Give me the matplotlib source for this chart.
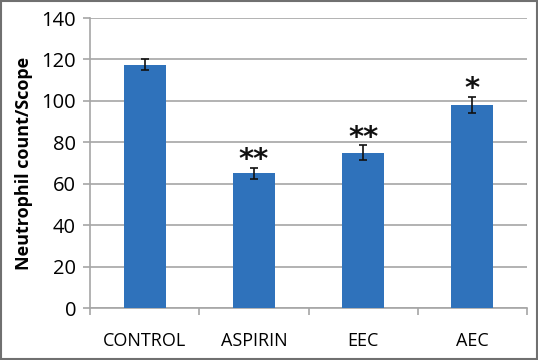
import matplotlib
matplotlib.use("Agg")
import matplotlib.pyplot as plt
import numpy as np

categories = ["CONTROL", "ASPIRIN", "EEC", "AEC"]
values = [117.5, 65.0, 75.0, 98.0]
errors = [2.7, 2.8, 3.5, 3.8]
marks = ["", "**", "**", "*"]
yticks = [0, 20, 40, 60, 80, 100, 120, 140]

plt.rcParams['font.family'] = ['Open Sans', 'DejaVu Sans']

fig = plt.figure(figsize=(5.38, 3.6), dpi=100)
ax = fig.add_axes([0.1673, 0.1444, 0.8123, 0.8056])

x = np.arange(len(categories))
ax.bar(x, values, width=0.385, color='#2f72bb', zorder=3)
ax.errorbar(x, values, yerr=errors, fmt='none', ecolor='#111111',
            elinewidth=1.2, capsize=3, capthick=1.2, zorder=4)
for xi, v, e, m in zip(x, values, errors, marks):
    if m:
        ax.text(xi, v + e - 3.0, m, ha='center', va='bottom', fontsize=21,
                fontweight='bold', family='DejaVu Sans', color='#111111')

ax.set_xlim(-0.5, len(categories) - 0.5)
ax.set_ylim(0, 140)
ax.set_yticks(yticks)
ax.set_yticklabels([str(t) for t in yticks], fontsize=14.5)
ax.yaxis.grid(True, color='#a6a6a6', linewidth=1.2, zorder=0)
ax.set_axisbelow(True)

ax.set_xticks(x)
ax.set_xticklabels(categories, fontsize=13)
ax.tick_params(axis='x', length=0, pad=17)
ax.set_xticks(np.arange(-0.5, len(categories)), minor=True)
ax.tick_params(axis='x', which='minor', length=5, color='#a6a6a6', width=1.2)
ax.tick_params(axis='y', length=5, color='#a6a6a6', width=1.2, pad=5)

for s in ['top', 'right']:
    ax.spines[s].set_visible(False)
for s in ['left', 'bottom']:
    ax.spines[s].set_color('#a6a6a6')
    ax.spines[s].set_linewidth(1.2)

ax.set_ylabel("Neutrophil count/Scope", fontsize=13, fontweight='bold', labelpad=6)

border = plt.Rectangle((0.002, 0.003), 0.996, 0.994, transform=fig.transFigure,
                       fill=False, edgecolor='#707070', linewidth=1.5)
fig.patches.append(border)

fig.savefig("out.png", dpi=100)
